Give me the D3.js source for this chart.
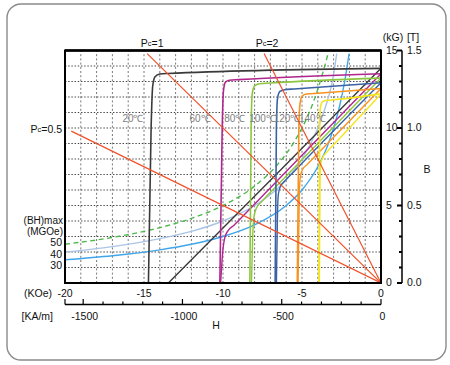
<!DOCTYPE html>
<html><head><meta charset="utf-8">
<script src="https://cdn.jsdelivr.net/npm/d3@7"></script>
<style>
body{margin:0;background:#fff;}
text{font-family:"Liberation Sans",Arial,Helvetica,sans-serif;fill:#111;}
</style>
</head><body>
<svg id="c" width="450" height="365"></svg>
<script>
// ---------- data (H in kOe, B in kG) ----------
const hKOeTicks = [-20, -15, -10, -5, 0];
const hKAmLabels = [-1500, -1000, -500, 0];
const bKGTicks = [0, 5, 10, 15];
const bTTicks = ["0.0", "0.5", "1.0", "1.5"];
const tempLabels = ["20℃", "60℃", "80℃", "100℃", "120℃", "140℃"];
const tempLabelH = [-15.7, -11.45, -9.25, -7.5, -5.95, -4.35];
const tempLabelB = 10.6;

// intrinsic (J) curves: H values and B values per temperature
const jH = [
  [-14.72, -14.55, -14.45, -14.3, -14.0, -13.5, 0],
  [-10.2, -10.05, -9.98, -9.85, -9.6, -9.0, 0],
  [-8.3, -8.22, -8.15, -8.0, -7.7, -7.0, 0],
  [-6.7, -6.62, -6.55, -6.4, -6.1, -5.5, 0],
  [-5.3, -5.2, -5.12, -4.98, -4.7, -4.0, 0],
  [-3.93, -3.88, -3.84, -3.7, -3.4, -3.0, 0]
];
const jB = [
  [0, 10, 12.7, 13.3, 13.48, 13.52, 13.85],
  [0, 10, 12.3, 12.95, 13.08, 13.12, 13.5],
  [0, 10, 12.2, 12.72, 12.85, 12.9, 13.22],
  [0, 10, 11.9, 12.36, 12.47, 12.52, 12.92],
  [0, 10, 11.6, 12.08, 12.19, 12.24, 12.55],
  [0, 10, 11.3, 11.7, 11.79, 11.82, 12.2]
];
// normal (B) curves
const nH = [
  [-13.46, -6.7, 0],
  [-10.15, -10.0, -9.88, -9.7, -9.3, -8.5, 0],
  [-8.2, -8.12, -8.05, -7.9, -7.5, -6.5, 0],
  [-6.62, -6.55, -6.5, -6.38, -6.1, -5.5, 0],
  [-5.25, -5.17, -5.1, -4.95, -4.7, -4.0, 0],
  [-3.9, -3.86, -3.82, -3.7, -3.4, -2.8, 0]
];
const nB = [
  [0, 6.93, 13.85],
  [0, 2.2, 2.95, 3.35, 3.73, 4.57, 13.5],
  [0, 3.0, 4.2, 4.8, 5.3, 6.37, 13.22],
  [0, 4.5, 5.7, 6.2, 6.56, 7.2, 12.92],
  [0, 5.8, 6.9, 7.35, 7.62, 8.35, 12.55],
  [0, 6.5, 7.6, 8.05, 8.48, 9.13, 12.2]
];

// (BH)max curves
const bhLabels = ["50", "40", "30"];
const bh50H = [-20, -17, -14, -12, -10, -8, -6.5, -5.5, -4.5, -4, -3.7, -3.35];
const bh50B = [2.5, 2.94, 3.57, 4.17, 5.0, 6.25, 7.7, 9.1, 11.1, 12.5, 13.5, 14.8];
const bh40H = [-20, -17, -14, -12, -10, -8, -6.5, -5, -4, -3.5, -3.1, -2.8];
const bh40B = [2.0, 2.35, 2.86, 3.33, 4.0, 5.0, 6.15, 8.0, 10.0, 11.4, 12.9, 14.8];
const bh30H = [-20, -17, -14, -12, -10, -8, -6, -5, -4, -3.4, -3, -2.6, -2.3, -2.02];
const bh30B = [1.5, 1.76, 2.14, 2.5, 3.0, 3.75, 5.0, 6.0, 7.5, 8.8, 10.0, 11.5, 13.0, 14.8];

// permeance coefficient lines
const pcValues = [0.5, 1, 2];
const pcLabels = ["0.5", "1", "2"];
const pcStartH = [-19.6, -14.8, -7.4];

// ---------- styles ----------
const tempColors = ["#3a3a3a", "#b0258e", "#8cc63f", "#3b62a5", "#f7931e", "#f5e51c"];
const bhColors = ["#4cb84a", "#a9c4e6", "#3fa6ea"];
const pcColor = "#f0502a";

const svg = d3.select("#c");
const x = d3.scaleLinear().domain([-20, 0]).range([65, 381]);
const y = d3.scaleLinear().domain([0, 15]).range([283, 50.5]);
const kOeToKAm = 79.5775;
const xKA = d3.scaleLinear().domain([-20 * kOeToKAm, 0]).range([65, 381]);

// outer rounded border
svg.append("rect").attr("x", 7).attr("y", 4).attr("width", 439).attr("height", 356)
  .attr("rx", 14).attr("fill", "none").attr("stroke", "#8a8a8a").attr("stroke-width", 1.4);

// clip
svg.append("clipPath").attr("id", "pc").append("rect")
  .attr("x", x(-20)).attr("y", y(15)).attr("width", x(0) - x(-20)).attr("height", y(0) - y(15));

const g = svg.append("g");
// grid
g.selectAll(".vg").data(d3.range(-19, 0)).join("line")
  .attr("x1", d => x(d)).attr("x2", d => x(d)).attr("y1", y(0)).attr("y2", y(15))
  .attr("stroke", "#777").attr("stroke-width", 1).attr("stroke-dasharray", "2,2.2");
g.selectAll(".hg").data(d3.range(1, 15)).join("line")
  .attr("x1", x(-20)).attr("x2", x(0)).attr("y1", d => y(d)).attr("y2", d => y(d))
  .attr("stroke", "#444").attr("stroke-width", 1.2).attr("stroke-dasharray", "1.4,1.8");

const plot = svg.append("g").attr("clip-path", "url(#pc)");
const line = d3.line().x(d => x(d[0])).y(d => y(d[1])).curve(d3.curveMonotoneX);

// BH max curves
[[bh50H, bh50B], [bh40H, bh40B], [bh30H, bh30B]].forEach((c, i) => {
  plot.append("path").datum(c[0].map((h, k) => [h, c[1][k]]))
    .attr("d", line).attr("fill", "none").attr("stroke", bhColors[i])
    .attr("stroke-width", 1.4).attr("stroke-dasharray", i === 0 ? "5,3.5" : null);
});

// temperature curves
tempColors.forEach((col, i) => {
  plot.append("path").datum(nH[i].map((h, k) => [h, nB[i][k]]))
    .attr("d", line).attr("fill", "none").attr("stroke", col).attr("stroke-width", 1.4);
  plot.append("path").datum(jH[i].map((h, k) => [h, jB[i][k]]))
    .attr("d", line).attr("fill", "none").attr("stroke", col).attr("stroke-width", 1.6);
});

// Pc lines
pcValues.forEach((p, i) => {
  plot.append("line").attr("x1", x(pcStartH[i])).attr("y1", y(-pcStartH[i] * p))
    .attr("x2", x(0)).attr("y2", y(0)).attr("stroke", pcColor).attr("stroke-width", 1.2);
});

// temperature labels
svg.selectAll(".tl").data(tempLabels).join("text")
  .attr("x", (d, i) => x(tempLabelH[i])).attr("y", y(tempLabelB))
  .attr("text-anchor", "middle").attr("dominant-baseline", "central")
  .attr("font-size", 10).style("fill", "#7d7d7d").text(d => d);

// frame
svg.append("rect").attr("x", x(-20)).attr("y", y(15)).attr("width", x(0) - x(-20))
  .attr("height", y(0) - y(15)).attr("fill", "none").attr("stroke", "#000").attr("stroke-width", 2);
svg.append("line").attr("x1", x(-20)).attr("x2", x(0)).attr("y1", y(15)).attr("y2", y(15))
  .attr("stroke", "#000").attr("stroke-width", 2.6);

// Pc labels
function pcText(xp, yp, val, anchor) {
  const t = svg.append("text").attr("x", xp).attr("y", yp).attr("text-anchor", anchor)
    .attr("dominant-baseline", "central").attr("font-size", 10.5);
  t.append("tspan").text("P");
  t.append("tspan").attr("font-size", 7.5).text("c");
  t.append("tspan").text("=" + val);
}
pcText(x(pcStartH[1]) + 5, 42.7, pcLabels[1], "middle");
pcText(x(pcStartH[2]) + 3, 42.7, pcLabels[2], "middle");
pcText(62, 129, pcLabels[0], "end");

// (BH)max labels
svg.append("text").attr("x", 63).attr("y", 220.7).attr("text-anchor", "end")
  .attr("dominant-baseline", "central").attr("font-size", 10).text("(BH)max");
svg.append("text").attr("x", 63).attr("y", 231.7).attr("text-anchor", "end")
  .attr("dominant-baseline", "central").attr("font-size", 10).text("(MGOe)");
const bhLabelY = [242.3, 254, 265];
svg.selectAll(".bhl").data(bhLabels).join("text")
  .attr("x", 62).attr("y", (d, i) => bhLabelY[i]).attr("text-anchor", "end")
  .attr("dominant-baseline", "central").attr("font-size", 10.5).text(d => d);

// bottom kOe labels
svg.selectAll(".kx").data(hKOeTicks).join("text")
  .attr("x", d => x(d)).attr("y", 293.3).attr("text-anchor", "middle")
  .attr("dominant-baseline", "central").attr("font-size", 10.5).text(d => d === 0 ? "0" : "-" + Math.abs(d));
svg.append("text").attr("x", 52).attr("y", 293.3).attr("text-anchor", "end")
  .attr("dominant-baseline", "central").attr("font-size", 10.5).text("(KOe)");

// kA/m axis
const axY = 304.5;
svg.append("line").attr("x1", xKA(-20 * kOeToKAm)).attr("x2", xKA(0)).attr("y1", axY).attr("y2", axY)
  .attr("stroke", "#000").attr("stroke-width", 1.5);
const kaTicks = d3.range(-1500, 1, 100);
svg.selectAll(".kat").data(kaTicks.concat([-20 * kOeToKAm])).join("line")
  .attr("x1", d => xKA(d)).attr("x2", d => xKA(d)).attr("y1", axY)
  .attr("y2", d => (d % 500 === 0 || d < -1550) ? axY - 5.5 : axY - 3)
  .attr("stroke", "#000").attr("stroke-width", 1.2);
svg.selectAll(".kal").data(hKAmLabels).join("text")
  .attr("x", d => xKA(d) + 1.5).attr("y", 315.7).attr("text-anchor", "middle")
  .attr("dominant-baseline", "central").attr("font-size", 10.5).text(d => d === 0 ? "0" : "-" + Math.abs(d));
svg.append("text").attr("x", 53).attr("y", 315.7).attr("text-anchor", "end")
  .attr("dominant-baseline", "central").attr("font-size", 10.5).text("[KA/m]");
svg.append("text").attr("x", 216).attr("y", 324.5).attr("text-anchor", "middle")
  .attr("dominant-baseline", "central").attr("font-size", 10.5).text("H");

// right axes
const tx = 402;
svg.append("line").attr("x1", tx).attr("x2", tx).attr("y1", y(0)).attr("y2", y(15))
  .attr("stroke", "#000").attr("stroke-width", 1.5);
svg.selectAll(".rt").data(d3.range(0, 16)).join("line")
  .attr("x1", d => d % 5 === 0 ? tx - 5 : tx - 3).attr("x2", tx)
  .attr("y1", d => y(d)).attr("y2", d => y(d)).attr("stroke", "#000").attr("stroke-width", 2);
svg.selectAll(".kgl").data(bKGTicks).join("text")
  .attr("x", 386).attr("y", d => y(d) - 1).attr("dominant-baseline", "central")
  .attr("font-size", 10.5).text(d => d);
svg.selectAll(".tl2").data(bTTicks).join("text")
  .attr("x", 407).attr("y", (d, i) => y(bKGTicks[i]) - 1).attr("dominant-baseline", "central")
  .attr("font-size", 10.5).text(d => d);
svg.append("text").attr("x", 393).attr("y", 36.7).attr("text-anchor", "middle")
  .attr("dominant-baseline", "central").attr("font-size", 10.5).text("(kG)");
svg.append("text").attr("x", 413).attr("y", 36.7).attr("text-anchor", "middle")
  .attr("dominant-baseline", "central").attr("font-size", 10.5).text("[T]");
svg.append("text").attr("x", 427).attr("y", 169).attr("text-anchor", "middle")
  .attr("dominant-baseline", "central").attr("font-size", 10.5).text("B");
</script>
</body></html>
